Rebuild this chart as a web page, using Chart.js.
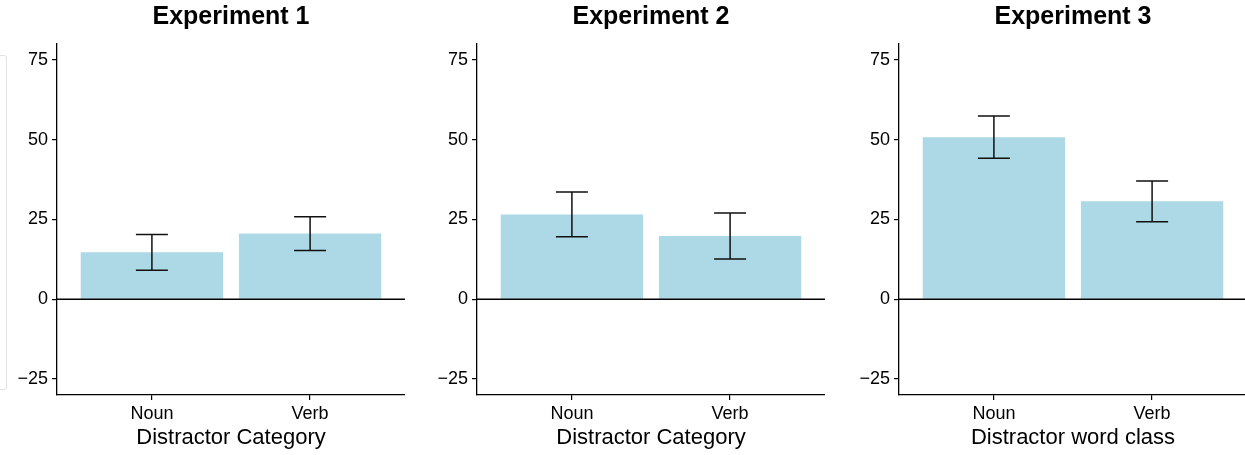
<!DOCTYPE html>
<html>
<head>
<meta charset="utf-8">
<script src="https://cdn.jsdelivr.net/npm/chart.js@4.4.1/dist/chart.umd.min.js"></script>
<style>
  html, body { margin: 0; padding: 0; background: #fff; }
  #wrap { position: relative; width: 1245px; height: 455px; overflow: hidden; }
  #wrap canvas { position: absolute; top: 0; }
  #legendBox {
    position: absolute; left: -100px; top: 55px; width: 105px; height: 333px;
    border: 1px solid #e2e2e2; border-radius: 3px;
  }
</style>
</head>
<body>
<div id="wrap">
  <div id="legendBox"></div>
  <canvas id="exp1" width="405" height="455" style="left:0px"></canvas>
  <canvas id="exp2" width="405" height="455" style="left:420px"></canvas>
  <canvas id="exp3" width="405" height="455" style="left:842px"></canvas>
</div>
<script>
// categories on the x axis
const categories = ["Noun", "Verb"];
const yTicks = [-25, 0, 25, 50, 75];

// mean scores and error (half-length of the error bar) per experiment
const exp1Means = [14.7, 20.6];
const exp1Errors = [5.6, 5.3];
const exp2Means = [26.6, 19.8];
const exp2Errors = [7.0, 7.2];
const exp3Means = [50.8, 30.7];
const exp3Errors = [6.6, 6.4];

const fontFamily = "'Liberation Sans', Arial, Helvetica, sans-serif";

// zero line + error bars drawn on top of the bars
const errorBarPlugin = {
  id: "errorBars",
  afterDatasetsDraw(chart, args, opts) {
    const ctx = chart.ctx;
    const yScale = chart.scales.y;
    const area = chart.chartArea;
    const y0 = yScale.getPixelForValue(0);

    ctx.save();
    ctx.strokeStyle = "#000";
    ctx.lineWidth = 1.3;
    ctx.beginPath();
    ctx.moveTo(area.left, y0);
    ctx.lineTo(area.right, y0);
    ctx.stroke();

    const meta = chart.getDatasetMeta(0);
    const means = opts.means;
    const errors = opts.errors;
    ctx.strokeStyle = "#111";
    ctx.lineWidth = 1.5;
    meta.data.forEach((bar, i) => {
      const x = bar.x;
      const top = yScale.getPixelForValue(means[i] + errors[i]);
      const bottom = yScale.getPixelForValue(means[i] - errors[i]);
      const half = 16;
      ctx.beginPath();
      ctx.moveTo(x, top);
      ctx.lineTo(x, bottom);
      ctx.moveTo(x - half, top);
      ctx.lineTo(x + half, top);
      ctx.moveTo(x - half, bottom);
      ctx.lineTo(x + half, bottom);
      ctx.stroke();
    });
    ctx.restore();
  },
};

function makePanel(canvasId, title, xTitle, means, errors) {
  const ctx = document.getElementById(canvasId).getContext("2d");
  return new Chart(ctx, {
    type: "bar",
    data: {
      datasets: [
        {
          data: means.map((v, i) => ({ x: i, y: v })),
          backgroundColor: "#ADD8E6",
          borderWidth: 0,
          barPercentage: 0.9,
          categoryPercentage: 1.0,
        },
      ],
    },
    plugins: [errorBarPlugin],
    options: {
      responsive: false,
      animation: false,
      layout: { padding: 0 },
      plugins: {
        legend: { display: false },
        tooltip: { enabled: false },
        title: {
          display: true,
          fullSize: false, // centre the title over the plot area only
          text: title,
          color: "#000",
          font: { family: fontFamily, size: 25, weight: "bold" },
          padding: { top: 2.5, bottom: 11.5 },
        },
        errorBars: { means: means, errors: errors },
      },
      scales: {
        x: {
          type: "linear",
          min: -0.6,
          max: 1.6,
          offset: false,
          afterBuildTicks: (scale) => {
            scale.ticks = categories.map((c, i) => ({ value: i }));
          },
          afterFit: (scale) => {
            scale.height = 60;
          },
          ticks: {
            color: "#000",
            padding: 3,
            maxRotation: 0,
            font: { family: fontFamily, size: 18 },
            callback: (v) => categories[v],
          },
          grid: {
            offset: false,
            drawOnChartArea: false,
            drawTicks: true,
            tickLength: 5,
            color: "#000",
            lineWidth: 1.2,
          },
          border: { display: true, color: "#000", width: 1.3 },
          title: {
            display: true,
            text: xTitle,
            color: "#000",
            font: { family: fontFamily, size: 22 },
            padding: { top: 2, bottom: 4 },
          },
        },
        y: {
          min: -30,
          max: 80,
          afterBuildTicks: (scale) => {
            scale.ticks = yTicks.map((v) => ({ value: v }));
          },
          afterFit: (scale) => {
            scale.width = 57;
          },
          ticks: {
            color: "#000",
            padding: 4,
            font: { family: fontFamily, size: 18 },
            callback: (v) => (v < 0 ? "\u2212" + Math.abs(v) : String(v)),
          },
          grid: {
            drawOnChartArea: false,
            drawTicks: true,
            tickLength: 5,
            color: "#000",
            lineWidth: 1.2,
          },
          border: { display: true, color: "#000", width: 1.3 },
        },
      },
    },
  });
}

makePanel("exp1", "Experiment 1", "Distractor Category", exp1Means, exp1Errors);
makePanel("exp2", "Experiment 2", "Distractor Category", exp2Means, exp2Errors);
makePanel("exp3", "Experiment 3", "Distractor word class", exp3Means, exp3Errors);
</script>
</body>
</html>
